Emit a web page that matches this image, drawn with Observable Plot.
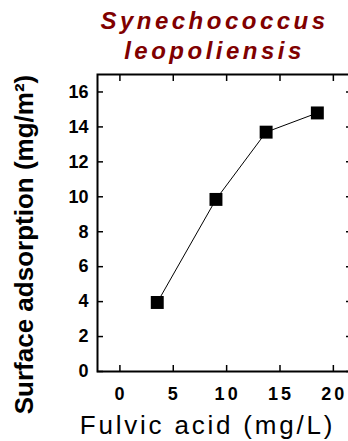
<!DOCTYPE html>
<html>
<head>
<meta charset="utf-8">
<script src="https://cdn.jsdelivr.net/npm/d3@7"></script>
<script src="https://cdn.jsdelivr.net/npm/@observablehq/plot@0.6"></script>
<style>
  html, body { margin: 0; padding: 0; background: #fff; overflow: hidden; }
  #chart svg { max-width: none !important; display: block; }
</style>
</head>
<body>
<div id="chart"></div>
<script>
// Data
const fulvicAcid = [3.5, 9.0, 13.7, 18.5];           // mg/L
const adsorption = [3.95, 9.85, 13.7, 14.8];          // mg/m²
const xTicks = [0, 5, 10, 15, 20];
const yTicks = [0, 2, 4, 6, 8, 10, 12, 14, 16];
const titleLines = ["Synechococcus", "leopoliensis"];
const xTitle = "Fulvic acid (mg/L)";
const yTitle = "Surface adsorption (mg/m²)";

const data = fulvicAcid.map((x, i) => ({x, y: adsorption[i]}));
const font = "'Liberation Sans', Arial, Helvetica, sans-serif";

const chart = Plot.plot({
  width: 352,
  height: 441,
  marginLeft: 97,
  marginRight: 1,
  marginTop: 74,
  marginBottom: 70,
  style: {fontFamily: font, background: "white", overflow: "visible"},
  x: {domain: [-2.1, 21.7], axis: null},
  y: {domain: [0, 17], axis: null},
  marks: [
    // inward tick marks on all four sides
    Plot.axisX(xTicks, {anchor: "bottom", tickSize: -6, strokeWidth: 1.5, fill: "none", label: null}),
    Plot.axisX(xTicks, {anchor: "top", tickSize: -6, strokeWidth: 1.5, fill: "none", label: null}),
    Plot.axisY(yTicks, {anchor: "left", tickSize: -6, strokeWidth: 1.5, fill: "none", label: null}),
    Plot.axisY(yTicks, {anchor: "right", tickSize: -6, strokeWidth: 1.5, fill: "none", label: null}),
    // tick labels
    Plot.axisX(xTicks, {anchor: "bottom", tickSize: 0, tickPadding: 16, fontSize: 18, fontWeight: "bold",
      fill: "#000", label: null, dx: 1}),
    Plot.axisY(yTicks, {anchor: "left", tickSize: 0, tickPadding: 9, fontSize: 18, fontWeight: "bold",
      fill: "#000", label: null}),
    Plot.frame({stroke: "#000", strokeWidth: 2}),
    Plot.line(data, {x: "x", y: "y", stroke: "#000", strokeWidth: 1}),
    Plot.dot(data, {x: "x", y: "y", symbol: "square", r: 7.3, fill: "#000", stroke: "none"}),
    // title
    Plot.text([titleLines.join("\n")], {
      frameAnchor: "top", lineAnchor: "bottom", textAnchor: "middle", dy: -16, dx: -10,
      fontSize: 24, fontWeight: "bold", fontStyle: "italic", fill: "#800000", lineHeight: 1.21
    }),
    // axis titles
    Plot.text([xTitle], {
      frameAnchor: "bottom", lineAnchor: "bottom", textAnchor: "middle", dy: 62, dx: -17,
      fontSize: 26, fill: "#000"
    }),
    Plot.text([yTitle], {
      frameAnchor: "left", lineAnchor: "bottom", textAnchor: "middle", rotate: -90, dx: -65, dy: 21.5,
      fontSize: 26, fontWeight: "bold", fill: "#000"
    })
  ]
});

// letter spacing, as in the reference typography
const xTickLabels = new Set(xTicks.map(String));
chart.querySelectorAll("text").forEach(t => {
  const s = t.textContent;
  if (s === titleLines.join("")) t.style.letterSpacing = "3.5px";
  else if (s === xTitle) t.style.letterSpacing = "2.8px";
  else if (xTickLabels.has(s) && t.closest('g[aria-label="x-axis tick label"]')) t.style.letterSpacing = "3px";
});
document.getElementById("chart").appendChild(chart);
</script>
</body>
</html>
